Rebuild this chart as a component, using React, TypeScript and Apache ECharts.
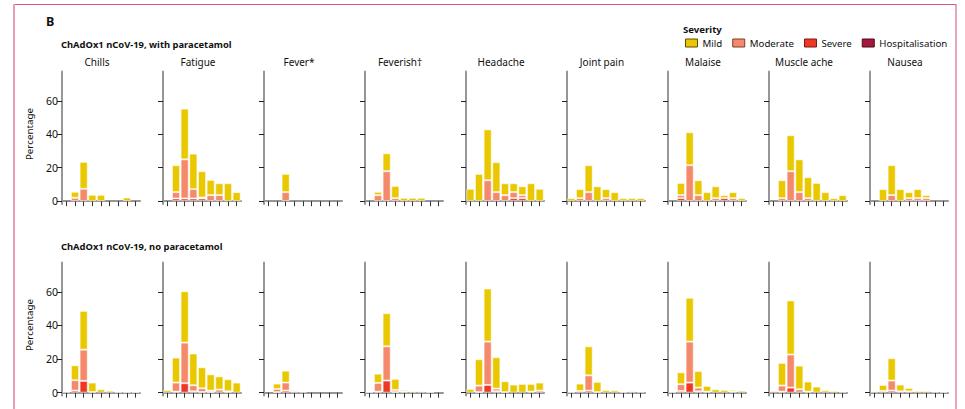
import React, { useEffect, useRef } from "react";
import * as echarts from "echarts";

const days = ["0", "1", "2", "3", "4", "5", "6", "7", "8"];
const symptoms = ["Chills", "Fatigue", "Fever*", "Feverish†", "Headache", "Joint pain", "Malaise", "Muscle ache", "Nausea"];
const severities = ["Mild", "Moderate", "Severe", "Hospitalisation"];
const severityColors = ["#EAC800", "#F48A6B", "#EE3726", "#A3183B"];
const legendBorders = ["#5c4f00", "#7a3f2f", "#7a1a12", "#4d0a1b"];
const yTicks = [0, 20, 40, 60];
const rowTitles = ["ChAdOx1 nCoV-19, with paracetamol", "ChAdOx1 nCoV-19, no paracetamol"];

// with paracetamol (rows = symptoms, columns = days)
const paraMild = [
  [0, 3.6, 16.1, 3.8, 3.8, 0, 0, 2.2, 0],
  [0, 16.1, 30.3, 21.2, 15.7, 9.1, 7.1, 10.7, 5.4],
  [0, 0, 10.9, 0, 0, 0, 0, 0, 0],
  [0, 2.0, 10.7, 7.3, 2.0, 2.0, 2.0, 0, 0],
  [7.4, 16.3, 30.4, 17.9, 7.1, 5.3, 5.3, 10.7, 7.4],
  [1.8, 5.4, 16.1, 8.9, 5.4, 5.4, 1.8, 1.8, 1.8],
  [0, 7.3, 19.7, 8.9, 5.4, 7.1, 1.8, 3.6, 1.8],
  [0, 10.7, 21.5, 19.6, 12.5, 10.9, 5.4, 1.8, 3.6],
  [0, 7.2, 17.9, 7.2, 3.6, 5.4, 1.8, 0, 0],
];
const paraModerate = [
  [0, 2.0, 7.4, 0, 0, 0, 0, 0, 0],
  [0, 3.8, 23.4, 5.6, 0.6, 3.6, 3.6, 0, 0],
  [0, 0, 5.4, 0, 0, 0, 0, 0, 0],
  [0, 3.6, 17.9, 1.8, 0, 0, 0, 0, 0],
  [0, 0, 12.5, 5.4, 3.6, 3.6, 1.8, 0, 0],
  [0, 1.8, 5.4, 0, 1.8, 0, 0, 0, 0],
  [0, 1.8, 21.5, 3.6, 0, 1.8, 0, 1.8, 0],
  [0, 1.8, 17.9, 5.4, 1.8, 0, 0, 0, 0],
  [0, 0, 3.6, 0, 1.8, 1.8, 1.8, 0, 0],
];
const paraSevere = [
  [0, 0, 0, 0, 0, 0, 0, 0, 0],
  [0, 1.6, 1.6, 1.6, 1.6, 0, 0, 0, 0],
  [0, 0, 0, 0, 0, 0, 0, 0, 0],
  [0, 0, 0, 0, 0, 0, 0, 0, 0],
  [0, 0, 0, 0, 0, 1.8, 1.8, 0, 0],
  [0, 0, 0, 0, 0, 0, 0, 0, 0],
  [0, 1.8, 0, 0, 0, 0, 1.8, 0, 0],
  [0, 0, 0, 0, 0, 0, 0, 0, 0],
  [0, 0, 0, 0, 0, 0, 0, 0, 0],
];
const paraHosp = [
  [0, 0, 0, 0, 0, 0, 0, 0, 0],
  [0, 0, 0, 0, 0, 0, 0, 0, 0],
  [0, 0, 0, 0, 0, 0, 0, 0, 0],
  [0, 0, 0, 0, 0, 0, 0, 0, 0],
  [0, 0, 0, 0, 0, 0, 0, 0, 0],
  [0, 0, 0, 0, 0, 0, 0, 0, 0],
  [0, 0, 0, 0, 0, 0, 0, 0, 0],
  [0, 0, 0, 0, 0, 0, 0, 0, 0],
  [0, 0, 0, 0, 0, 0, 0, 0, 0],
];

// no paracetamol
const noParaMild = [
  [0.6, 8.9, 23.1, 5.6, 2.0, 1.2, 0.4, 0.3, 0.3],
  [1.6, 14.9, 30.6, 18.9, 12.5, 9.7, 7.9, 7.2, 6.0],
  [0, 3.2, 7.1, 0.8, 0.6, 0, 0, 0, 0],
  [0.3, 5.5, 19.7, 6.6, 1.0, 0.8, 0.8, 0.3, 0],
  [2.2, 15.7, 31.6, 18.7, 6.5, 4.8, 5.2, 4.6, 4.8],
  [0.4, 4.4, 17.3, 6.1, 1.6, 1.4, 0.4, 0.8, 0.6],
  [0.4, 7.1, 26.1, 9.9, 3.4, 2.0, 1.6, 1.0, 1.2],
  [1.0, 13.5, 32.2, 14.1, 6.0, 3.6, 1.4, 1.0, 0.6],
  [0.8, 3.6, 13.3, 4.0, 2.0, 1.0, 1.0, 0.6, 0.4],
];
const noParaModerate = [
  [0, 6.2, 18.6, 0.4, 0, 0, 0, 0, 0],
  [0, 5.4, 24.2, 3.6, 2.2, 0.9, 1.8, 0.3, 0],
  [0, 1.9, 4.8, 0.8, 0, 0, 0, 0, 0],
  [0, 5.2, 20.4, 1.3, 0.6, 0, 0, 0, 0],
  [0, 3.9, 25.8, 1.6, 0.3, 0, 0, 0.6, 1.2],
  [0, 1.0, 9.1, 0.3, 0, 0, 0, 0, 0],
  [0, 4.0, 24.4, 2.2, 0.6, 0, 0, 0.6, 0],
  [0, 3.6, 19.7, 2.0, 0.6, 0, 0, 0, 0],
  [0, 1.0, 6.0, 0.8, 0.8, 0, 0, 0, 0],
];
const noParaSevere = [
  [0, 1.2, 7.0, 0, 0, 0, 0, 0, 0],
  [0, 0.6, 5.6, 0.8, 0.4, 0.3, 0, 0.5, 0],
  [0, 0.3, 1.2, 0, 0, 0, 0, 0, 0],
  [0, 0.6, 7.2, 0.3, 0, 0, 0, 0, 0],
  [0, 0.3, 4.6, 0.8, 0, 0, 0, 0, 0],
  [0, 0, 1.2, 0, 0, 0, 0, 0, 0],
  [0, 1.0, 6.0, 0.8, 0, 0, 0, 0, 0],
  [0, 0.6, 3.0, 0, 0, 0, 0, 0, 0],
  [0, 0, 1.2, 0, 0, 0, 0, 0, 0],
];
const noParaHosp = [
  [0, 0, 0, 0, 0, 0, 0, 0, 0],
  [0, 0, 0, 0, 0, 0, 0, 0, 0],
  [0, 0, 0, 0, 0, 0, 0, 0, 0],
  [0, 0, 0, 0, 0, 0, 0, 0, 0],
  [0, 0, 0, 0, 0, 0, 0, 0, 0],
  [0, 0, 0, 0, 0, 0, 0, 0, 0],
  [0, 0, 0, 0, 0, 0, 0, 0, 0],
  [0, 0, 0, 0, 0, 0, 0, 0, 0],
  [0, 0, 0, 0, 0, 0, 0, 0, 0],
];

const FONT = "'Noto Sans', 'DejaVu Sans', sans-serif";

export default function App() {
  const ref = useRef<HTMLDivElement>(null);
  useEffect(() => {
    if (!ref.current) return;
    const chart = echarts.init(ref.current, null, { renderer: "svg" });
    const rows = [
      [paraMild, paraModerate, paraSevere, paraHosp],
      [noParaMild, noParaModerate, noParaSevere, noParaHosp],
    ];
    const grids: any[] = [];
    const xAxes: any[] = [];
    const yAxes: any[] = [];
    const series: any[] = [];
    const graphics: any[] = [];
    const rowTop = [71.5, 262.5];
    const rowHeight = [132.5, 133];
    const axisGray = "#969696";
    for (let r = 0; r < 2; r++) {
      for (let s = 0; s < symptoms.length; s++) {
        const idx = r * symptoms.length + s;
        const left = 62 + 101 * s;
        grids.push({ left, top: rowTop[r], width: 78, height: rowHeight[r] });
        xAxes.push({
          type: "category",
          gridIndex: idx,
          data: days,
          boundaryGap: true,
          axisLine: { show: true, lineStyle: { color: axisGray, width: 2 } },
          axisTick: { show: true, alignWithLabel: true, interval: 0, length: 5, lineStyle: { color: "#333", width: 1 } },
          axisLabel: { show: false, interval: 0 },
          splitLine: { show: false },
        });
        yAxes.push({
          type: "value",
          gridIndex: idx,
          min: -1.7,
          max: 77.5,
          axisLine: { show: true, lineStyle: { color: axisGray, width: 2 } },
          axisTick: { show: true, length: 5, customValues: yTicks, lineStyle: { color: "#222", width: 1 } },
          axisLabel: { show: s === 0, customValues: yTicks, fontSize: 10.5, color: "#111", margin: 4, fontFamily: FONT },
          splitLine: { show: false },
        });
        for (let k = 3; k >= 0; k--) {
          series.push({
            type: "bar",
            name: severities[k],
            xAxisIndex: idx,
            yAxisIndex: idx,
            stack: "p" + idx,
            barCategoryGap: "6%",
            silent: true,
            itemStyle: { color: severityColors[k], borderColor: "rgba(255,255,255,0.55)", borderWidth: 1 },
            data: rows[r][k][s].map((v: number) => (v > 0 ? v : "-")),
          });
        }
        if (r === 0) {
          graphics.push({
            type: "text",
            x: left + 35,
            y: 62.3,
            style: { text: symptoms[s], fill: "#111", fontSize: 10, fontFamily: FONT, textAlign: "center", textVerticalAlign: "middle" },
          });
        }
      }
    }
    graphics.push(
      { type: "line", shape: { x1: 14, y1: 4.5, x2: 956, y2: 4.5 }, style: { stroke: "#d9577a", lineWidth: 1.2 } },
      { type: "line", shape: { x1: 14, y1: 4, x2: 14, y2: 409 }, style: { stroke: "#e6a0b6", lineWidth: 2 } },
      { type: "line", shape: { x1: 956, y1: 4, x2: 956, y2: 409 }, style: { stroke: "#dc6a88", lineWidth: 1.2 } },
      { type: "text", x: 46, y: 21, style: { text: "B", fill: "#111", fontSize: 12.5, fontWeight: "bold", fontFamily: FONT, textVerticalAlign: "middle" } },
      { type: "text", x: 61, y: 44.5, style: { text: rowTitles[0], fill: "#111", fontSize: 9.4, fontWeight: "bold", fontFamily: FONT, textVerticalAlign: "middle" } },
      { type: "text", x: 61, y: 246.7, style: { text: rowTitles[1], fill: "#111", fontSize: 9.4, fontWeight: "bold", fontFamily: FONT, textVerticalAlign: "middle" } },
      { type: "text", x: 683, y: 29.5, style: { text: "Severity", fill: "#111", fontSize: 9.6, fontWeight: "bold", fontFamily: FONT, textVerticalAlign: "middle" } },
      { type: "text", x: 29, y: 134, rotation: Math.PI / 2, style: { text: "Percentage", fill: "#111", fontSize: 9.8, fontFamily: FONT, textAlign: "center", textVerticalAlign: "middle" } },
      { type: "text", x: 29, y: 325, rotation: Math.PI / 2, style: { text: "Percentage", fill: "#111", fontSize: 9.8, fontFamily: FONT, textAlign: "center", textVerticalAlign: "middle" } }
    );
    chart.setOption({
      animation: false,
      backgroundColor: "#ffffff",
      textStyle: { fontFamily: FONT },
      grid: grids,
      xAxis: xAxes,
      yAxis: yAxes,
      series,
      legend: {
        left: 685,
        top: 38,
        width: 300,
        orient: "horizontal",
        padding: 0,
        icon: "rect",
        itemWidth: 12,
        itemHeight: 8,
        itemGap: 10,
        selectedMode: false,
        textStyle: { fontSize: 9.7, color: "#111", fontFamily: FONT },
        data: severities.map((n, i) => ({
          name: n,
          itemStyle: { color: severityColors[i], borderColor: legendBorders[i], borderWidth: 1 },
        })),
      },
      graphic: graphics,
    });
    return () => chart.dispose();
  }, []);
  return <div ref={ref} style={{ position: "fixed", left: 0, top: 0, width: 965, height: 409, background: "#fff" }} />;
}
